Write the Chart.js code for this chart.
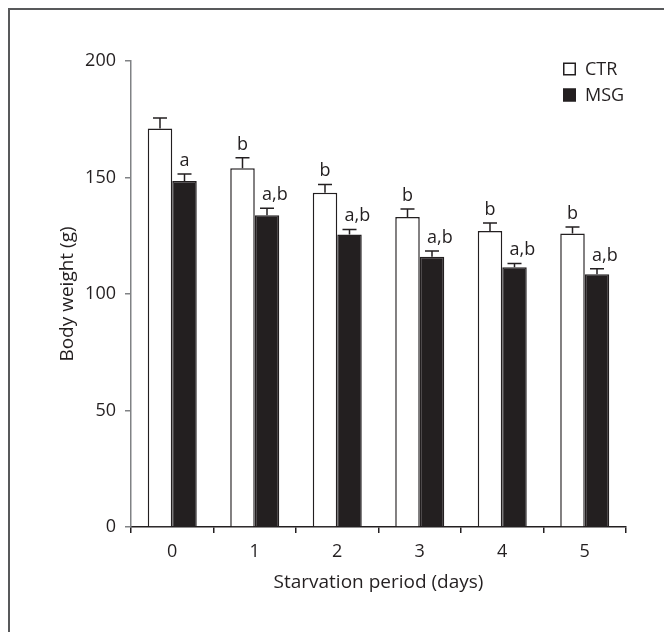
<!DOCTYPE html>
<html>
<head>
<meta charset="utf-8">
<script src="https://cdn.jsdelivr.net/npm/chart.js@4.4.1/dist/chart.umd.min.js"></script>
<style>
    html, body { margin: 0; padding: 0; background: #fff; }
    body { width: 664px; height: 632px; overflow: hidden; position: relative; }
    .frame { position: absolute; left: 8px; top: 8px; width: 720px; height: 720px; border: 2px solid #58595b; box-sizing: border-box; }
    #chart { position: absolute; left: 0; top: 0; }
</style>
</head>
<body>
<div class="frame"></div>
<canvas id="chart" width="664" height="632"></canvas>
<script>
// --- DATA ---
const days = ['0', '1', '2', '3', '4', '5'];
const ctrValues = [171, 154, 143.5, 133, 127, 126];
const ctrErrors = [4.5, 4.5, 3.5, 3.5, 3.5, 2.8];
const msgValues = [148.5, 133.8, 125.5, 116, 111.5, 108.5];
const msgErrors = [3, 3, 2.2, 2.5, 1.6, 2.3];
const ctrLetters = ['', 'b', 'b', 'b', 'b', 'b'];
const msgLetters = ['a', 'a,b', 'a,b', 'a,b', 'a,b', 'a,b'];
const yTicks = [0, 50, 100, 150, 200];

const INK = '#231f20';
const AXIS_GREY = '#808285';
const FONT = '"Open Sans", Lato, sans-serif';
const FSIZE = 18;
const TITLE_SIZE = 19;

// error bars + significance letters + legend
const annotate = {
    id: 'annotate',
    afterDatasetsDraw(chart) {
        const ctx = chart.ctx;
        const yScale = chart.scales.y;
        ctx.save();
        chart.data.datasets.forEach((ds, di) => {
            const meta = chart.getDatasetMeta(di);
            meta.data.forEach((bar, i) => {
                const top = yScale.getPixelForValue(ds.data[i] + ds.errors[i]);
                ctx.strokeStyle = INK;
                ctx.lineWidth = 1.5;
                ctx.beginPath();
                ctx.moveTo(bar.x, bar.y);
                ctx.lineTo(bar.x, top);
                ctx.moveTo(bar.x - 7, top);
                ctx.lineTo(bar.x + 7, top);
                ctx.stroke();

                const txt = ds.letters[i];
                if (txt) {
                    ctx.font = FSIZE + 'px ' + FONT;
                    ctx.fillStyle = INK;
                    ctx.textBaseline = 'alphabetic';
                    ctx.textAlign = 'left';
                    const aw = ctx.measureText(txt[0]).width;
                    ctx.fillText(txt, bar.x - aw / 2, top - 8);
                }
            });
        });

        // legend, top right
        chart.data.datasets.forEach((ds, di) => {
            const cy = 69 + di * 26;
            ctx.fillStyle = ds.backgroundColor;
            ctx.fillRect(563, cy - 6.5, 13, 13);
            ctx.strokeStyle = INK;
            ctx.lineWidth = 1.5;
            ctx.strokeRect(563.75, cy - 5.75, 11.5, 11.5);
            ctx.font = FSIZE + 'px ' + FONT;
            ctx.fillStyle = INK;
            ctx.textAlign = 'left';
            ctx.textBaseline = 'middle';
            ctx.fillText(ds.label, 585, cy + 1);
        });
        ctx.restore();
    }
};

new Chart(document.getElementById('chart'), {
    type: 'bar',
    data: {
        labels: days,
        datasets: [
            {
                label: 'CTR',
                data: ctrValues,
                errors: ctrErrors,
                letters: ctrLetters,
                backgroundColor: '#ffffff',
                borderColor: INK,
                borderWidth: 1.5
            },
            {
                label: 'MSG',
                data: msgValues,
                errors: msgErrors,
                letters: msgLetters,
                backgroundColor: INK,
                borderColor: INK,
                borderWidth: 1.5
            }
        ]
    },
    options: {
        responsive: false,
        animation: false,
        devicePixelRatio: 1,
        layout: { padding: { left: 52, top: 61, right: 38, bottom: 34 } },
        datasets: { bar: { categoryPercentage: 0.594, barPercentage: 1 } },
        plugins: { legend: { display: false }, tooltip: { enabled: false } },
        scales: {
            x: {
                afterFit: (s) => { s.height = 71; },
                grid: { drawOnChartArea: false, tickLength: 6, tickColor: INK, lineWidth: 1.5, offset: true },
                border: { color: INK, width: 1.5 },
                ticks: { color: INK, padding: 8, font: { family: FONT, size: FSIZE } },
                title: {
                    display: true,
                    text: 'Starvation period (days)',
                    color: INK,
                    padding: { top: 4, bottom: 4 },
                    font: { family: FONT, size: TITLE_SIZE }
                }
            },
            y: {
                min: 0,
                max: 200,
                afterFit: (s) => { s.width = 79; },
                afterBuildTicks: (s) => { s.ticks = yTicks.map(v => ({ value: v })); },
                grid: { drawOnChartArea: false, tickLength: 6, tickColor: AXIS_GREY, lineWidth: 1.5 },
                border: { color: AXIS_GREY, width: 1.5 },
                ticks: { color: INK, padding: 9, font: { family: FONT, size: FSIZE } },
                title: {
                    display: true,
                    text: 'Body weight (g)',
                    color: INK,
                    padding: { top: 4, bottom: 4 },
                    font: { family: FONT, size: TITLE_SIZE }
                }
            }
        }
    },
    plugins: [annotate]
});
</script>
</body>
</html>
